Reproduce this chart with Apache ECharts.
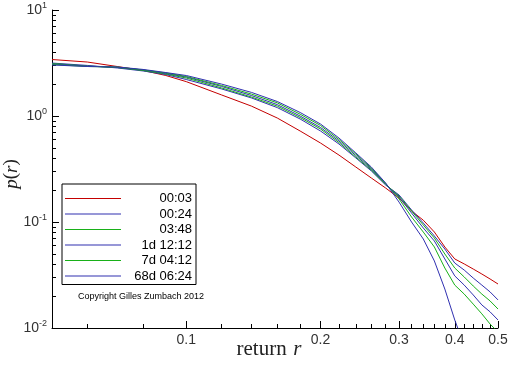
<!DOCTYPE html>
<html>
<head>
<meta charset="utf-8">
<script src="https://cdn.jsdelivr.net/npm/echarts@6/dist/echarts.min.js"></script>
<style>
  html, body { margin: 0; padding: 0; background: #fff; }
  #chart { width: 512px; height: 366px; }
</style>
</head>
<body>
<div id="chart"></div>
<script>
// ---- data ----
const returns = [0.05, 0.06, 0.07, 0.08, 0.09, 0.10, 0.12, 0.14, 0.16, 0.18, 0.20, 0.22, 0.24,
                 0.26, 0.28, 0.30, 0.32, 0.34, 0.36, 0.38, 0.40, 0.42, 0.44, 0.46, 0.48, 0.50];
const returnsSteep = [0.05, 0.06, 0.07, 0.08, 0.09, 0.10, 0.12, 0.14, 0.16, 0.18, 0.20, 0.22, 0.24,
                      0.26, 0.28, 0.30, 0.32, 0.34, 0.36, 0.38, 0.40, 0.41];

const seriesNames = ['00:03', '00:24', '03:48', '1d 12:12', '7d 04:12', '68d 06:24'];

const p0003 = [3.41, 3.23, 2.93, 2.69, 2.41, 2.11, 1.58, 1.24, 0.957, 0.722, 0.556, 0.428, 0.330,
               0.260, 0.209, 0.168, 0.127, 0.104, 0.0805, 0.0581, 0.0448, 0.0402, 0.0360, 0.0323, 0.0290, 0.0260];
const p0024 = [3.16, 3.00, 2.84, 2.66, 2.46, 2.21, 1.80, 1.48, 1.20, 0.937, 0.722, 0.544, 0.402,
               0.303, 0.223, 0.180, 0.130, 0.0978, 0.0738, 0.0556, 0.0410, 0.0352, 0.0296, 0.0254, 0.0219, 0.0184];
const p0348 = [3.13, 2.96, 2.87, 2.69, 2.49, 2.28, 1.84, 1.51, 1.24, 0.968, 0.754, 0.562, 0.410,
               0.309, 0.226, 0.176, 0.127, 0.0937, 0.0706, 0.0499, 0.0368, 0.0303, 0.0249, 0.0209, 0.0180, 0.0151];
const p1d1212 = [3.09, 2.96, 2.87, 2.72, 2.52, 2.33, 1.90, 1.56, 1.28, 1.00, 0.779, 0.581, 0.424,
                 0.316, 0.228, 0.172, 0.1216, 0.0878, 0.0662, 0.0448, 0.0310, 0.0254, 0.0205, 0.0165, 0.0142, 0.0119];
const p7d0412 = [3.06, 2.93, 2.90, 2.72, 2.55, 2.36, 1.94, 1.61, 1.33, 1.04, 0.814, 0.600, 0.438,
                 0.323, 0.231, 0.165, 0.1115, 0.0804, 0.0581, 0.0368, 0.0254, 0.0209, 0.0168, 0.0136, 0.0109, 0.00917];
const p68d0624 = [3.03, 2.93, 2.90, 2.75, 2.57, 2.41, 2.00, 1.67, 1.37, 1.08, 0.840, 0.620, 0.448,
                  0.330, 0.233, 0.154, 0.100, 0.0691, 0.0429, 0.0233, 0.0119, 0.00897];

const xMajorTicks = [0.1, 0.2, 0.3, 0.4, 0.5];
const xMinorTicks = [0.06, 0.08, 0.12, 0.14, 0.16, 0.18, 0.22, 0.24, 0.26, 0.28, 0.32, 0.34, 0.36,
                     0.38, 0.42, 0.44, 0.46, 0.48];
const yMajorTicks = [0.01, 0.1, 1, 10];
const yMinorTicks = [0.02, 0.03, 0.04, 0.05, 0.06, 0.07, 0.08, 0.09,
                     0.2, 0.3, 0.4, 0.5, 0.6, 0.7, 0.8, 0.9,
                     2, 3, 4, 5, 6, 7, 8, 9];

const copyright = 'Copyright Gilles Zumbach 2012';

// ---- chart ----
const colors = ['#c40000', '#3030b0', '#18b018', '#3030b0', '#18b018', '#3030b0'];
const seriesValues = [p0003, p0024, p0348, p1d1212, p7d0412, p68d0624];
const seriesX = [returns, returns, returns, returns, returns, returnsSteep];

const chart = echarts.init(document.getElementById('chart'), null, { renderer: 'canvas' });

const axisColor = '#000';
const labelFont = 'Liberation Sans';

const option = {
  backgroundColor: '#fff',
  animation: false,
  color: colors,
  grid: { left: 52, right: 14, top: 10, bottom: 38, containLabel: false, outerBoundsMode: 'none' },
  legend: {
    orient: 'vertical',
    left: 62,
    top: 184,
    data: seriesNames.map(function (n, i) {
      return {
        name: n,
        icon: 'path://M0,0 L56,0 L56,1 L0,1 Z',
        itemStyle: { color: colors[i], borderWidth: 0, opacity: 1 }
      };
    }),
    itemWidth: 56,
    itemHeight: 1,
    itemGap: 2.5,
    padding: [8, 4, 2, 3],
    borderColor: '#000',
    borderWidth: 1,
    backgroundColor: '#fff',
    selectedMode: false,
    formatter: function (name) { return '{t|' + name + '}'; },
    textStyle: {
      rich: {
        t: { width: 66, align: 'right', fontFamily: labelFont, fontSize: 13, color: '#000' }
      }
    }
  },
  graphic: [{
    type: 'text',
    left: 78,
    top: 292,
    style: { text: copyright, font: '9px "Liberation Sans"', fill: '#000' }
  }],
  xAxis: [{
    type: 'log',
    min: 0.05,
    max: 0.5,
    position: 'bottom',
    axisLine: { show: true, lineStyle: { color: axisColor, width: 1 } },
    splitLine: { show: false },
    minorTick: { show: false },
    axisTick: { show: true, inside: true, length: 7, customValues: xMajorTicks, lineStyle: { color: axisColor } },
    axisLabel: {
      show: true, customValues: xMajorTicks, margin: 5,
      fontFamily: labelFont, fontSize: 14, color: '#333',
      formatter: function (v) { return String(+(+v).toFixed(2)); }
    },
    name: '{a|return}  {b|r}',
    nameLocation: 'middle',
    nameGap: 11,
    nameMoveOverlap: false,
    nameTextStyle: {
      padding: [0, 12, 0, 0],
      rich: {
        a: { fontFamily: 'Liberation Serif', fontSize: 21, color: '#222' },
        b: { fontFamily: 'Liberation Serif', fontSize: 21, fontStyle: 'italic', color: '#222' }
      }
    }
  }, {
    type: 'log',
    min: 0.05,
    max: 0.5,
    position: 'bottom',
    axisLine: { show: false },
    splitLine: { show: false },
    axisTick: { show: true, inside: true, length: 4, customValues: xMinorTicks, lineStyle: { color: axisColor } },
    axisLabel: { show: false }
  }],
  yAxis: [{
    type: 'log',
    min: 0.01,
    max: 10,
    position: 'left',
    axisLine: { show: true, lineStyle: { color: axisColor, width: 1 } },
    splitLine: { show: false },
    minorTick: { show: false },
    axisTick: { show: true, inside: true, length: 7, customValues: yMajorTicks, lineStyle: { color: axisColor } },
    axisLabel: {
      show: true, customValues: yMajorTicks, margin: 5,
      formatter: function (v) {
        const e = Math.round(Math.log10(v));
        return '{b|10}{s|' + e + '}';
      },
      rich: {
        b: { fontFamily: labelFont, fontSize: 14, color: '#333' },
        s: { fontFamily: labelFont, fontSize: 9, color: '#333', padding: [0, 0, 9, 0] }
      }
    },
    name: '{a|p}{c|(}{a|r}{c|)}',
    nameLocation: 'middle',
    nameGap: 31,
    nameMoveOverlap: false,
    nameTextStyle: {
      padding: [0, 10, 0, 0],
      rich: {
        a: { fontFamily: 'Liberation Serif', fontSize: 19, fontStyle: 'italic', color: '#222' },
        c: { fontFamily: 'Liberation Serif', fontSize: 19, color: '#222' }
      }
    }
  }, {
    type: 'log',
    min: 0.01,
    max: 10,
    position: 'left',
    axisLine: { show: false },
    splitLine: { show: false },
    axisTick: { show: true, inside: true, length: 4, customValues: yMinorTicks, lineStyle: { color: axisColor } },
    axisLabel: { show: false }
  }],
  series: seriesNames.map(function (name, i) {
    return {
      name: name,
      type: 'line',
      xAxisIndex: 0,
      yAxisIndex: 0,
      symbol: 'none',
      smooth: false,
      clip: true,
      lineStyle: { width: 1, color: colors[i] },
      itemStyle: { color: colors[i] },
      data: seriesX[i].map(function (r, k) { return [r, seriesValues[i][k]]; })
    };
  })
};

chart.setOption(option);
</script>
</body>
</html>
